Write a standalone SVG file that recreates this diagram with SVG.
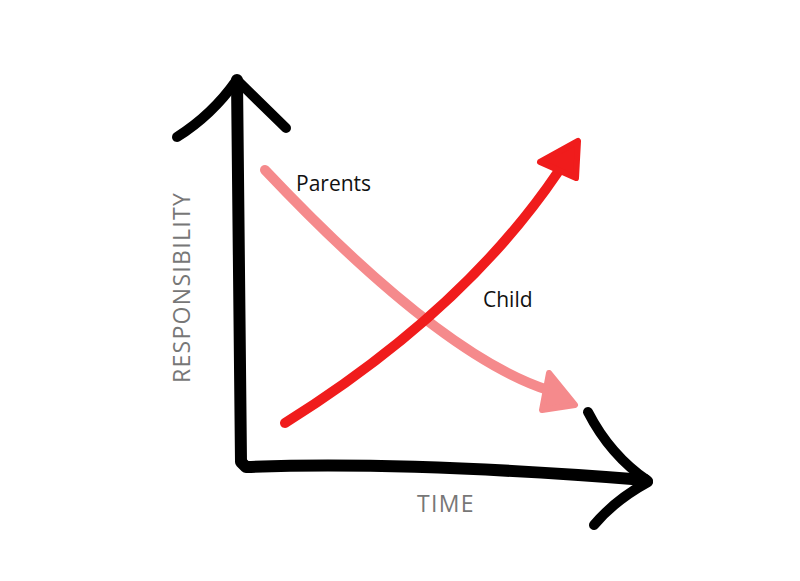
<svg xmlns="http://www.w3.org/2000/svg" width="800" height="581" viewBox="0 0 800 581">
<style>
.axis{fill:none;stroke:#000;stroke-width:12;stroke-linecap:round;stroke-linejoin:round}
.wing{fill:none;stroke:#000;stroke-width:10;stroke-linecap:round}
.child{fill:none;stroke:#f01c1c;stroke-width:10;stroke-linecap:round}
.childhead{fill:#f01c1c;stroke:#f01c1c;stroke-width:6;stroke-linejoin:round}
.parent{fill:none;stroke:#f58a8c;stroke-width:10;stroke-linecap:round}
.parenthead{fill:#f58a8c;stroke:#f58a8c;stroke-width:6;stroke-linejoin:round}
.lbl{font-family:"Open Sans","Noto Sans",sans-serif;font-size:21px;fill:#111}
.axlbl{font-family:"Open Sans","Noto Sans",sans-serif;font-size:23px;fill:#777;letter-spacing:1.3px}
</style>
<rect width="800" height="581" fill="#fff"/>
<g id="axes">
<path class="axis" d="M237,80 C238,200 240,330 241,462 L246,467 C380,462 520,470 645,480"/>
<path class="wing" d="M236,81 Q212,115 177,137"/>
<path class="wing" d="M239,82 L286,128"/>
<path class="wing" d="M588,412 Q610,455 648,481"/>
<path class="wing" d="M648,482 Q615,500 594,525"/>
</g>
<g id="connectors">
<g id="parents-curve">
<path class="parent" d="M265,170 Q440,355 548,390"/>
<polygon class="parenthead" points="549,373 575,405 542,410"/>
</g>
<g id="child-curve">
<path class="child" d="M285,423 Q464,311 558,172"/>
<polygon class="childhead" points="540,162 578,141 576,178"/>
</g>
</g>
<g id="labels">
<text class="lbl" x="296" y="191">Parents</text>
<text class="lbl" x="483" y="307">Child</text>
<text class="axlbl" transform="translate(190,383) rotate(-90)">RESPONSIBILITY</text>
<text class="axlbl" x="417" y="512">TIME</text>
</g>
</svg>
